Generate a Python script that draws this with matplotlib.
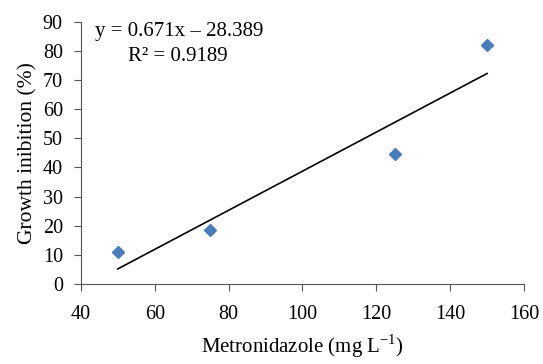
import matplotlib.pyplot as plt

# Metronidazole dose vs growth inhibition
dose = [50, 75, 125, 150]
inhibition = [11.0, 18.5, 44.7, 82.0]

# trendline reported on the chart
slope = 0.671
intercept = -28.389
fit_x = [min(dose), max(dose)]
fit_y = [slope * x + intercept for x in fit_x]

plt.rcParams['font.family'] = ['Liberation Serif']
plt.rcParams['mathtext.fontset'] = 'custom'
plt.rcParams['mathtext.rm'] = 'Liberation Serif'

fig = plt.figure(figsize=(5.43, 3.64), dpi=100)
ax = fig.add_axes([0.149, 0.22, 0.816, 0.72])

ax.plot(fit_x, fit_y, color='black', lw=1.2, zorder=2)
ax.plot(dose, inhibition, linestyle='none', marker='D', ms=6.5,
        color='#4a7ebb', zorder=3)

ax.set_xlim(40, 160)
ax.set_ylim(0, 90)
ax.set_xticks(range(40, 161, 20))
ax.set_yticks(range(0, 91, 10))
ax.tick_params(labelsize=14.5, direction='out', length=5, color='#555555')
ax.tick_params(axis='y', pad=8)
ax.tick_params(axis='x', pad=10)
ax.spines['top'].set_visible(False)
ax.spines['right'].set_visible(False)
for s in ['left', 'bottom']:
    ax.spines[s].set_color('#555555')

ax.set_xlabel('Metronidazole (mg L$^{\\mathrm{-1}}$)', fontsize=15, labelpad=6)
ax.set_ylabel('Growth inibition (%)', fontsize=15.5, labelpad=4)

ax.text(0.032, 0.962, 'y = 0.671x \u2013 28.389', transform=ax.transAxes,
        fontsize=15, ha='left', va='center')
ax.text(0.106, 0.866, 'R\u00b2 = 0.9189', transform=ax.transAxes,
        fontsize=15, ha='left', va='center')

fig.savefig('out.png', dpi=100)
